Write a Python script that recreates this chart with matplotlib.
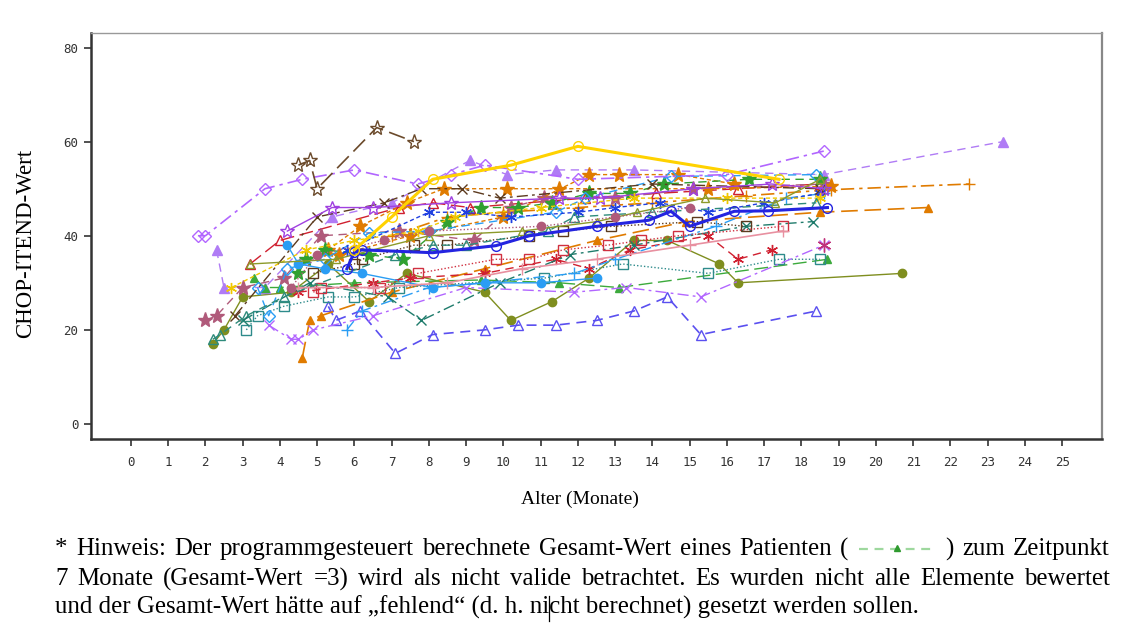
import matplotlib
matplotlib.use('Agg')
import matplotlib.pyplot as plt
from matplotlib.lines import Line2D

# ---- data: Alter (Monate) / CHOP-ITEND-Wert je Patient ----
age_p01 = [4.5, 4.8, 5.0, 6.6, 7.6]
val_p01 = [55, 56, 50, 63, 60]
age_p02 = [1.8, 2.0, 3.6, 4.6, 6.0, 7.7, 8.6, 9.5, 12.0, 16.0, 18.6]
val_p02 = [40, 40, 50, 52, 54, 51, 53, 55, 52, 53, 58]
age_p03 = [6.0, 7.0, 8.1, 10.2, 12.0, 17.4]
val_p03 = [37, 44, 52, 55, 59, 52]
age_p04 = [5.8, 6.0, 6.2, 8.1, 9.8, 10.7, 12.5, 13.9, 14.5, 15.0, 16.2, 17.1, 18.7]
val_p04 = [33, 36.5, 37, 36.4, 37.9, 40, 42, 43.3, 45.2, 42, 45.2, 45.3, 46]
age_p05 = [2.2, 2.5, 3.0, 4.3, 5.3, 6.4, 7.4, 9.5, 10.2, 11.3, 12.3, 13.5, 14.4, 15.8, 16.3, 20.7]
val_p05 = [17, 20, 27, 28, 34, 26, 32, 28, 22, 26, 31, 39, 39, 34, 30, 32]
age_p06 = [5.3, 5.5, 6.15, 7.1, 8.1, 9.5, 10.4, 11.4, 12.5, 13.5, 14.4, 15.3, 18.4]
val_p06 = [25, 22, 24, 15, 19, 20, 21, 21, 22, 24, 27, 19, 24]
age_p07 = [2.3, 2.5, 3.6, 5.4, 7.0, 9.1, 10.1, 11.4, 13.5, 18.6, 23.4]
val_p07 = [37, 29, 29, 44, 47, 56, 53, 54, 54, 53, 60]
age_p08 = [7.0, 8.5, 10.0, 12.0, 14.0, 16.5, 18.8, 22.5]
val_p08 = [40, 44, 45, 46, 47, 48.5, 49.8, 51]
age_p09 = [4.6, 4.8, 5.1, 7.0, 9.5, 12.5, 14.9, 18.5, 21.4]
val_p09 = [14, 22, 23, 28, 33, 39, 43, 45, 46]
age_p10 = [3.3, 3.6, 4.0, 6.0, 9.4, 11.5, 13.1, 18.7]
val_p10 = [31, 29, 29, 30, 30.6, 30, 29, 35]
age_p11 = [3.1, 3.4, 4.1, 5.3, 6.0, 7.2, 11.1, 13.2, 15.5, 17.4, 18.5]
val_p11 = [20, 23, 25, 27, 27, 29, 31, 34, 32, 35, 35]
age_p12 = [4.5, 6.5, 7.5, 9.5, 11.4, 12.3, 13.4, 15.5, 16.3, 17.2]
val_p12 = [28, 30, 31, 32, 35, 33, 37, 40, 35, 37]
age_p13 = [3.7, 4.3, 4.5, 4.9, 6.5, 9.0, 11.9, 13.3, 15.3, 18.6]
val_p13 = [21, 18, 18, 20, 23, 29, 28, 29, 27, 38]
age_p14 = [3.0, 4.8, 6.9, 7.8, 9.9, 11.8, 13.5, 16.5, 18.3]
val_p14 = [22, 30, 27, 22, 30, 36, 38, 42, 43]
age_p15 = [4.9, 6.0, 6.2, 7.6, 8.5, 10.7, 11.6, 12.9, 15.2, 16.5]
val_p15 = [32, 34, 35, 38, 38, 40, 41, 42, 43, 42]
age_p16 = [3.2, 4.0, 7.2, 8.1, 9.1, 12.2, 14.1, 16.3, 18.5]
val_p16 = [34, 39, 46, 47, 46, 48, 49, 50, 51]
age_p17 = [2.0, 2.3, 3.0, 4.1, 5.1, 7.2, 9.2, 10.2, 11.1, 13.0, 15.1, 18.6]
val_p17 = [22, 23, 29, 31, 40, 41, 39, 46, 48, 48, 50, 51]
age_p18 = [5.3, 6.15, 7.4, 8.4, 10.1, 11.5, 15.5, 18.8]
val_p18 = [37, 42, 47, 50, 50, 50, 50, 50.5]
age_p19 = [5.6, 7.5, 10.0, 12.3, 13.1, 14.7, 16.2]
val_p19 = [36, 40, 44, 53, 53, 53, 51]
age_p20 = [4.5, 4.7, 5.2, 6.4, 7.3, 8.5, 9.4, 10.4, 11.3, 12.3, 13.4, 14.3, 16.6, 18.5]
val_p20 = [32, 35, 37, 36, 35, 43, 46, 46, 47, 49, 49, 51, 52, 52]
age_p21 = [4.2, 4.5, 5.2, 6.2, 8.1, 9.5, 11.0, 12.5]
val_p21 = [38, 34, 33, 32, 29, 30, 30, 31]
age_p22 = [3.4, 3.7, 4.2, 5.2, 6.4, 8.0, 11.4, 12.2, 14.5, 18.4]
val_p22 = [29, 23, 33, 35, 40.6, 41, 45, 48, 52.6, 53]
age_p23 = [5.8, 6.2, 8.0, 9.5, 11.9, 13.0, 15.7, 17.6, 18.6]
val_p23 = [20, 24, 29, 30, 32, 35, 42, 48, 49]
age_p24 = [5.8, 8.0, 9.0, 10.2, 12.0, 13.0, 14.2, 15.5, 17.0, 18.5]
val_p24 = [37, 45, 45, 44, 45, 46, 47, 45, 47, 49]
age_p25 = [2.8, 5.0, 6.8, 7.8, 8.9, 9.9, 14.0, 18.5]
val_p25 = [23, 44, 47, 50, 50, 48, 51, 50]
age_p26 = [4.2, 5.4, 6.5, 8.6, 11.5, 12.6, 15.1, 17.2, 18.6]
val_p26 = [41, 46, 46, 47, 48, 48, 50, 51, 50]
age_p27 = [4.9, 5.1, 6.7, 7.7, 9.8, 10.7, 11.6, 12.8, 13.7, 14.7, 17.5]
val_p27 = [28, 29, 29, 32, 35, 35, 37, 38, 39, 40, 42]
age_p28 = [4.5, 6.5, 8.5, 10.5, 12.5, 15.0, 17.5]
val_p28 = [29, 29, 30, 33, 35, 38, 41]
age_p29 = [2.7, 4.7, 6.0, 7.7, 8.7, 11.0, 13.5, 16.0, 18.5]
val_p29 = [29, 37, 39, 41, 44, 46, 48, 48, 48]
age_p30 = [2.2, 2.4, 3.1, 4.1, 7.1, 8.1, 9.0, 11.2, 11.9, 14.0, 18.4]
val_p30 = [18, 19, 23, 27, 36, 38, 38, 41, 44, 45, 47]
age_p31 = [3.2, 5.5, 8.0, 10.5, 12.5, 13.6, 15.4, 17.3, 18.5]
val_p31 = [34, 35, 40, 41, 43, 45, 48, 47, 52]
age_p32 = [4.3, 5.0, 6.8, 8.0, 11.0, 13.0, 15.0]
val_p32 = [29, 36, 39, 41, 42, 44, 46]
age_p33 = [18.6]
val_p33 = [38]

x_ticks = list(range(0, 26))
y_ticks = [0, 20, 40, 60, 80]

# ---- styles (color, marker, filled, marker size, line width, dash) ----
DASH = (0, (6, 4))
LDASH = (0, (10, 4))
SDASH = (0, (3, 2))
DDOT = (0, (8, 3, 2, 3))
DOT = (0, (1, 1.5))
AST = (6, 2, 0)

series = [
    (age_p05, val_p05, '#7F8E1F', 'o', True, 6, 1.0, '-'),
    (age_p06, val_p06, '#5A4FF0', '^', False, 7, 1.2, DASH),
    (age_p07, val_p07, '#B07CF5', '^', True, 7, 1.0, DASH),
    (age_p08, val_p08, '#E07B00', '+', False, 9, 1.2, DDOT),
    (age_p09, val_p09, '#E07B00', '^', True, 6, 1.2, LDASH),
    (age_p10, val_p10, '#3CAA3C', '^', True, 6, 1.0, LDASH),
    (age_p11, val_p11, '#2E8B8B', 's', False, 7, 1.0, DOT),
    (age_p12, val_p12, '#D02030', AST, False, 8, 1.0, DASH),
    (age_p13, val_p13, '#B266FF', 'x', False, 7, 1.0, DDOT),
    (age_p14, val_p14, '#1E7B6B', 'x', False, 7, 1.0, DDOT),
    (age_p15, val_p15, '#5C3A1E', 's', False, 7, 1.0, DOT),
    (age_p16, val_p16, '#D02030', '^', False, 7, 1.0, LDASH),
    (age_p17, val_p17, '#B05A7A', '*', True, 11, 1.0, DASH),
    (age_p18, val_p18, '#E07B00', '*', True, 11, 1.0, SDASH),
    (age_p19, val_p19, '#E07B00', '*', True, 11, 1.0, SDASH),
    (age_p20, val_p20, '#30A030', '*', True, 11, 1.0, DASH),
    (age_p21, val_p21, '#2A9DF4', 'o', True, 6, 1.0, '-'),
    (age_p22, val_p22, '#2A9DF4', 'D', False, 6, 1.0, DASH),
    (age_p23, val_p23, '#2A9DF4', '+', False, 8, 1.0, DDOT),
    (age_p24, val_p24, '#2040E0', AST, False, 8, 1.0, SDASH),
    (age_p25, val_p25, '#5C3A1E', 'x', False, 7, 1.0, DDOT),
    (age_p26, val_p26, '#A040E0', '*', False, 10, 1.0, '-'),
    (age_p27, val_p27, '#D03040', 's', False, 7, 1.0, DOT),
    (age_p28, val_p28, '#E890A0', '+', False, 9, 1.2, '-'),
    (age_p29, val_p29, '#F0C800', AST, False, 8, 1.0, SDASH),
    (age_p30, val_p30, '#2E8B7B', '^', False, 7, 1.0, DASH),
    (age_p31, val_p31, '#8C9A2A', '^', False, 6, 1.0, '-'),
    (age_p32, val_p32, '#B05A7A', 'o', True, 6, 1.0, DOT),
    (age_p33, val_p33, '#C0307A', AST, False, 10, 1.0, '-'),
    (age_p02, val_p02, '#B266FF', 'D', False, 6, 1.2, DDOT),
    (age_p01, val_p01, '#6B4A2B', '*', False, 11, 1.2, LDASH),
    (age_p04, val_p04, '#2424E0', 'o', False, 7, 2.2, '-'),
    (age_p03, val_p03, '#FFD200', 'o', False, 7, 2.2, '-'),
]

W, H = 1137, 631
fig = plt.figure(figsize=(W / 100, H / 100), dpi=100)
ax = fig.add_axes([91 / W, 1 - 439 / H, (1102 - 91) / W, (439 - 33) / H])

for xs, ys, col, mk, filled, ms, lw, ls in series:
    ax.plot(xs, ys, color=col, lw=lw, linestyle=ls, marker=mk, ms=ms,
            mfc=col if filled else 'none', mec=col, mew=1.0)

ax.set_xlim(-1.07, 26.07)
ax.set_ylim(-3.2, 83.1)
ax.set_xticks(x_ticks)
ax.set_yticks(y_ticks)
tick_font = dict(family='DejaVu Sans Mono', size=9)
ax.set_xticklabels([str(t) for t in x_ticks], fontdict=tick_font)
ax.set_yticklabels([str(t) for t in y_ticks], fontdict=tick_font)
ax.tick_params(axis='x', direction='out', length=5, width=1.2, pad=7, colors='#333333')
ax.tick_params(axis='y', direction='out', length=5, width=1.2, pad=4, colors='#333333')
ax.spines['left'].set_linewidth(1.8)
ax.spines['left'].set_color('#333333')
ax.spines['bottom'].set_linewidth(1.8)
ax.spines['bottom'].set_color('#333333')
ax.spines['top'].set_linewidth(1.0)
ax.spines['top'].set_color('#999999')
ax.spines['right'].set_linewidth(1.6)
ax.spines['right'].set_color('#888888')

serif = 'Liberation Serif'
fig.text(26 / W, 1 - 243 / H, 'CHOP-ITEND-Wert', rotation=90, ha='center', va='center',
         family=serif, fontsize=16.5)
fig.text(580 / W, 1 - 499 / H, 'Alter (Monate)', ha='center', va='center',
         family=serif, fontsize=14)

# ---- footnote (justified like the source document) ----
FS = 17.9
x_left, x_right = 55, 1110
renderer = fig.canvas.get_renderer()
SAMPLE = None
sample_w = 80


def text_w(s):
    t = fig.text(0, 0, s, family=serif, fontsize=FS)
    w = t.get_window_extent(renderer=renderer).width
    t.remove()
    return w


def put_line(tokens, y):
    widths = [sample_w if tok is SAMPLE else text_w(tok) for tok in tokens]
    gap = (x_right - x_left - sum(widths)) / (len(tokens) - 1)
    x = x_left
    y0 = 1 - y / H
    for tok, w in zip(tokens, widths):
        if tok is SAMPLE:
            fig.add_artist(Line2D([(x + 2) / W, (x + w - 2) / W], [y0, y0], transform=fig.transFigure,
                                  color='#9ED89E', lw=1.6, linestyle=(0, (4, 3))))
            fig.add_artist(Line2D([(x + w / 2) / W], [y0 + 1 / H], transform=fig.transFigure,
                                  color='#2E9A2E', marker='^', ms=5, lw=0))
        else:
            fig.text(x / W, y0, tok, family=serif, fontsize=FS, va='center', ha='left')
        x += w + gap


line1 = ['*', 'Hinweis:', 'Der', 'programmgesteuert', 'berechnete', 'Gesamt-Wert', 'eines',
         'Patienten', '(', SAMPLE, ')', 'zum', 'Zeitpunkt']
line2 = '7 Monate (Gesamt-Wert =3) wird als nicht valide betrachtet. Es wurden nicht alle Elemente bewertet'.split()
line3 = 'und der Gesamt-Wert hätte auf „fehlend“ (d. h. nicht berechnet) gesetzt werden sollen.'
put_line(line1, 549)
put_line(line2, 579)
fig.text(x_left / W, 1 - 607 / H, line3, family=serif, fontsize=FS, va='center', ha='left')

# text cursor artefact inside "nicht"
cx = x_left + text_w('und der Gesamt-Wert hätte auf „fehlend“ (d. h. ni')
fig.add_artist(Line2D([cx / W, cx / W], [1 - 596 / H, 1 - 621 / H], transform=fig.transFigure,
                      color='black', lw=0.9))

fig.savefig('out.png', dpi=100)
